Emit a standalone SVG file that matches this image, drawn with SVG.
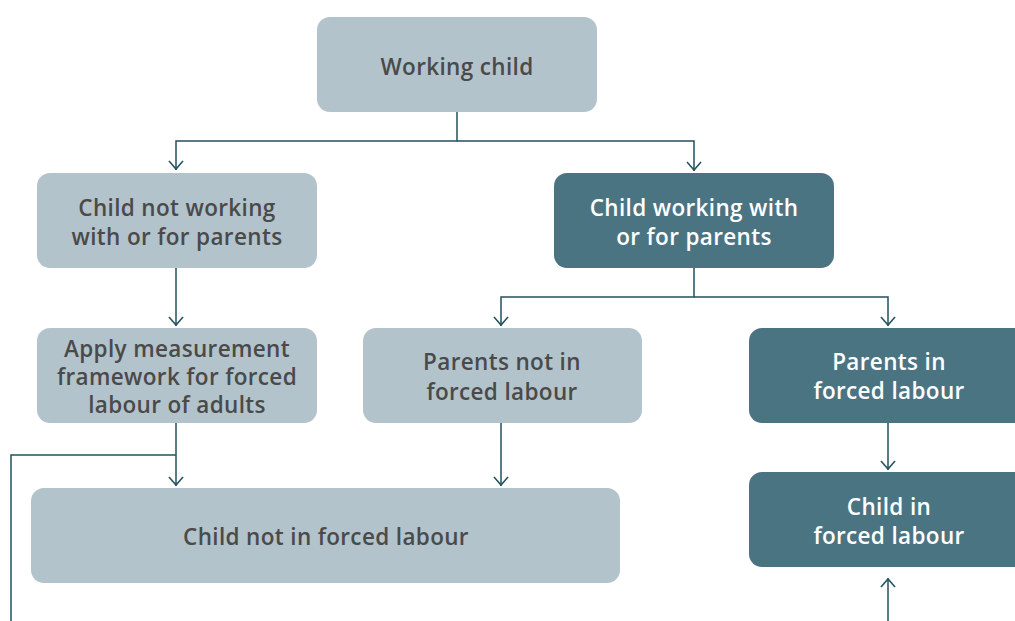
<svg xmlns="http://www.w3.org/2000/svg" width="1015" height="621" viewBox="0 0 1015 621">
<style>
.light{fill:#b3c3cb}
.dark{fill:#4b7483}
text{font-family:"Open Sans","Liberation Sans",sans-serif;font-weight:600;font-size:22.5px;letter-spacing:0.35px;text-anchor:middle}
.tl{fill:#4a4a4a}
.td{fill:#ffffff}
.c{fill:none;stroke:#22505e;stroke-width:1.5}
</style>
<defs>
<marker id="ah" viewBox="0 0 12 16" refX="11" refY="8" markerWidth="12" markerHeight="16" markerUnits="userSpaceOnUse" orient="auto-start-reverse">
<path d="M2,1 L10,8 L2,15" fill="none" stroke="#22505e" stroke-width="1.5"/>
</marker>
</defs>
<rect width="1015" height="621" fill="#ffffff"/>
<g id="connectors">
<path class="c" d="M457,112 V141 H176 V170" marker-end="url(#ah)"/>
<path class="c" d="M457,141 H694 V171" marker-end="url(#ah)"/>
<path class="c" d="M694,268 V297 H501 V326" marker-end="url(#ah)"/>
<path class="c" d="M694,297 H888 V326" marker-end="url(#ah)"/>
<path class="c" d="M176,268 V326" marker-end="url(#ah)"/>
<path class="c" d="M176,423 V486" marker-end="url(#ah)"/>
<path class="c" d="M176,455 H11 V621"/>
<path class="c" d="M501,423 V486" marker-end="url(#ah)"/>
<path class="c" d="M888,423 V470" marker-end="url(#ah)"/>
<path class="c" d="M888,621 V578" marker-end="url(#ah)"/>
</g>
<g id="working-child">
<rect class="light" x="317" y="17" width="280" height="95" rx="13"/>
<text class="tl" x="457" y="75">Working child</text>
</g>
<g id="child-not-working-with-parents">
<rect class="light" x="37" y="173" width="280" height="95" rx="13"/>
<text class="tl" x="177" y="216">Child not working</text>
<text class="tl" x="177" y="245">with or for parents</text>
</g>
<g id="child-working-with-parents">
<rect class="dark" x="554" y="173" width="280" height="95" rx="13"/>
<text class="td" x="694" y="216">Child working with</text>
<text class="td" x="694" y="245">or for parents</text>
</g>
<g id="apply-measurement">
<rect class="light" x="37" y="328" width="280" height="95" rx="13"/>
<text class="tl" x="177" y="357">Apply measurement</text>
<text class="tl" x="177" y="385">framework for forced</text>
<text class="tl" x="177" y="413">labour of adults</text>
</g>
<g id="parents-not-in-forced-labour">
<rect class="light" x="363" y="328" width="279" height="95" rx="13"/>
<text class="tl" x="502" y="370">Parents not in</text>
<text class="tl" x="502" y="400">forced labour</text>
</g>
<g id="parents-in-forced-labour">
<rect class="dark" x="749" y="328" width="280" height="95" rx="13"/>
<text class="td" x="889" y="370">Parents in</text>
<text class="td" x="889" y="399">forced labour</text>
</g>
<g id="child-not-in-forced-labour">
<rect class="light" x="31" y="488" width="589" height="95" rx="13"/>
<text class="tl" x="326" y="545">Child not in forced labour</text>
</g>
<g id="child-in-forced-labour">
<rect class="dark" x="749" y="472" width="280" height="95" rx="13"/>
<text class="td" x="889" y="515">Child in</text>
<text class="td" x="889" y="544">forced labour</text>
</g>
</svg>
